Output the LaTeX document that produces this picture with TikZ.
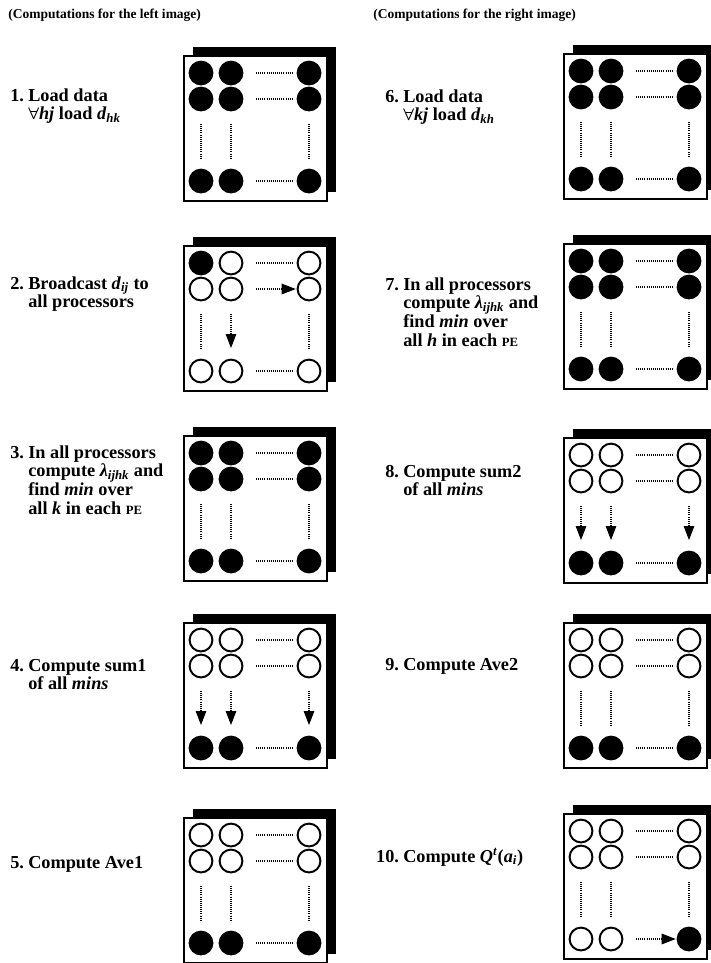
\documentclass[tikz,border=0pt]{standalone}
\usepackage{fontspec}
\setmainfont{Liberation Serif}
\usetikzlibrary{arrows.meta,shadows,calc}

\tikzset{
  pebox/.style={draw, line width=1.1pt, fill=white, inner sep=0pt,
    minimum width=3.575cm, minimum height=3.625cm,
    general shadow={fill=black, shadow xshift=6.4pt, shadow yshift=6.4pt}},
  pe/.style={circle, draw, line width=1.4pt, inner sep=0pt, minimum size=0.57cm},
  pe on/.style={pe, fill=black},
  pe off/.style={pe, fill=white},
  dots h/.style={line width=0.8pt, dash pattern=on 0.7pt off 0.8pt,
    shorten <=9pt, shorten >=3pt},
  arrow h/.style={dots h, shorten >=0.6pt, -{Triangle[length=10pt,width=7.5pt]}},
  dots v/.style={line width=0.8pt, dash pattern=on 0.7pt off 0.8pt,
    shorten <=9pt, shorten >=7.5pt},
  arrow v/.style={dots v, -{Triangle[length=10pt,width=7.5pt]}},
  lbl/.style={font=\fontsize{13}{13.5}\selectfont\bfseries\boldmath,
    inner sep=0pt, anchor=base west},
  hdr/.style={font=\fontsize{9.6}{11}\selectfont\bfseries,
    inner sep=0pt, anchor=base west}
}

% one processor array: name, left, top, fill of the nine PEs
\newcommand{\pegrid}[4]{%
  \node[pebox, anchor=north west] (#1) at (#2,#3) {};
  \foreach \st [count=\k from 0] in {#4} {
    \pgfmathtruncatemacro\rw{div(\k,3)+1}
    \pgfmathtruncatemacro\cl{mod(\k,3)+1}
    \pgfmathsetmacro\cx{{18,48,126}[\cl-1]}
    \pgfmathsetmacro\ry{{18,44,126}[\rw-1]}
    \node[pe \st] (#1-\rw\cl) at ([shift={(\cx,\ry)}]#1.north west) {};
  }
}
% dotted links: name, row styles, column styles
\newcommand{\pelinks}[3]{%
  \foreach \st [count=\rw] in {#2} \draw[\st\space h] (#1-\rw2) -- (#1-\rw3);
  \foreach \st [count=\cl] in {#3} \draw[\st\space v] (#1-2\cl) -- (#1-3\cl);
}
\newcommand{\pename}{{\fontsize{9}{9}\selectfont PE}}

\begin{document}
\begin{tikzpicture}[x=0.025cm, y=-0.025cm]
\useasboundingbox (0,0) rectangle (711,963);

\node[hdr] (hl) at (8,18) {(Computations for the left image)};
\node[hdr] (hr) at (373,18) {(Computations for the right image)};

% left image
\pegrid{p1}{183}{55}{on,on,on,on,on,on,on,on,on}
\pelinks{p1}{dots,dots,dots}{dots,dots,dots}
\node[lbl] (t1) at (28,101) {\begin{tabular}[t]{@{}l@{}}\llap{1.\hspace{3pt}}Load data\\
  $\forall$\textit{hj} load \textit{d}\textsubscript{\textit{hk}}\end{tabular}};

\pegrid{p2}{183}{245}{on,off,off,off,off,off,off,off,off}
\pelinks{p2}{dots,arrow,dots}{dots,arrow,dots}
\node[lbl] (t2) at (28,289) {\begin{tabular}[t]{@{}l@{}}\llap{2.\hspace{3pt}}Broadcast \textit{d}\textsubscript{\textit{ij}} to\\
  all processors\end{tabular}};

\pegrid{p3}{183}{435}{on,on,on,on,on,on,on,on,on}
\pelinks{p3}{dots,dots,dots}{dots,dots,dots}
\node[lbl] (t3) at (28,458) {\begin{tabular}[t]{@{}l@{}}\llap{3.\hspace{3pt}}In all processors\\
  compute \textit{λ}\textsubscript{\textit{ijhk}} and\\
  find \textit{min} over\\
  all \textit{k} in each \pename\end{tabular}};

\pegrid{p4}{183}{622}{off,off,off,off,off,off,on,on,on}
\pelinks{p4}{dots,dots,dots}{arrow,arrow,arrow}
\node[lbl] (t4) at (28,671) {\begin{tabular}[t]{@{}l@{}}\llap{4.\hspace{3pt}}Compute sum1\\
  of all \textit{mins}\end{tabular}};

\pegrid{p5}{183}{817}{off,off,off,off,off,off,on,on,on}
\pelinks{p5}{dots,dots,dots}{dots,dots,dots}
\node[lbl] (t5) at (28,868) {\llap{5.\hspace{3pt}}Compute Ave1};

% right image
\pegrid{p6}{563}{53}{on,on,on,on,on,on,on,on,on}
\pelinks{p6}{dots,dots,dots}{dots,dots,dots}
\node[lbl] (t6) at (403,102) {\begin{tabular}[t]{@{}l@{}}\llap{6.\hspace{3pt}}Load data\\
  $\forall$\textit{kj} load \textit{d}\textsubscript{\textit{kh}}\end{tabular}};

\pegrid{p7}{563}{243}{on,on,on,on,on,on,on,on,on}
\pelinks{p7}{dots,dots,dots}{dots,dots,dots}
\node[lbl] (t7) at (403,290) {\begin{tabular}[t]{@{}l@{}}\llap{7.\hspace{3pt}}In all processors\\
  compute \textit{λ}\textsubscript{\textit{ijhk}} and\\
  find \textit{min} over\\
  all \textit{h} in each \pename\end{tabular}};

\pegrid{p8}{563}{437}{off,off,off,off,off,off,on,on,on}
\pelinks{p8}{dots,dots,dots}{arrow,arrow,arrow}
\node[lbl] (t8) at (403,477) {\begin{tabular}[t]{@{}l@{}}\llap{8.\hspace{3pt}}Compute sum2\\
  of all \textit{mins}\end{tabular}};

\pegrid{p9}{563}{622}{off,off,off,off,off,off,on,on,on}
\pelinks{p9}{dots,dots,dots}{dots,dots,dots}
\node[lbl] (t9) at (403,670) {\llap{9.\hspace{3pt}}Compute Ave2};

\pegrid{p10}{563}{813}{off,off,off,off,off,off,off,off,on}
\pelinks{p10}{dots,dots,arrow}{dots,dots,dots}
\node[lbl] (t10) at (403,862) {\llap{10.\hspace{3pt}}Compute \textit{Q}\textsuperscript{\textit{t}}(\textit{a}\textsubscript{\textit{i}})};
\end{tikzpicture}
\end{document}
